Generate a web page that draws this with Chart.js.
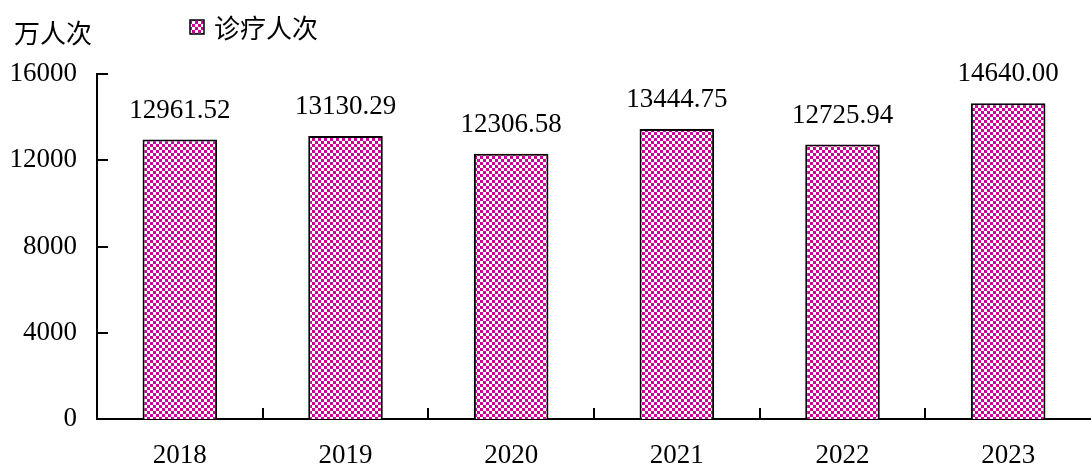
<!DOCTYPE html>
<html>
<head>
<meta charset="utf-8">
<script src="https://cdn.jsdelivr.net/npm/chart.js@4/dist/chart.umd.min.js"></script>
<style>
html,body{margin:0;padding:0;background:#fff;}
#wrap{width:1091px;height:465px;position:relative;}
</style>
</head>
<body>
<div id="wrap"><canvas id="c" width="1091" height="465"></canvas></div>
<script>
const categories = ['2018', '2019', '2020', '2021', '2022', '2023'];
const visits = [12961.52, 13130.29, 12306.58, 13444.75, 12725.94, 14640.00];
const seriesName = '诊疗人次';
const unitLabel = '万人次';
const yTicks = [0, 4000, 8000, 12000, 16000];

function makePattern(ctx) {
  const p = document.createElement('canvas');
  p.width = 6; p.height = 6;
  const g = p.getContext('2d');
  g.fillStyle = '#ffffff';
  g.fillRect(0, 0, 6, 6);
  g.fillStyle = '#cc0099';
  g.fillRect(0, 0, 3, 3);
  g.fillRect(3, 3, 3, 3);
  return ctx.createPattern(p, 'repeat');
}

const canvas = document.getElementById('c');
const ctx = canvas.getContext('2d');
const pattern = makePattern(ctx);
const numFont = '"Liberation Serif", "Times New Roman", serif';
const cjkFont = '"Noto Sans CJK SC", sans-serif';

const extras = {
  id: 'extras',
  afterDatasetsDraw(chart) {
    const c = chart.ctx;
    const ca = chart.chartArea;
    const xs = chart.scales.x, ys = chart.scales.y;
    c.save();
    c.strokeStyle = '#000';
    c.lineWidth = 2;
    // inward y ticks
    yTicks.forEach(v => {
      const y = Math.round(ys.getPixelForValue(v));
      c.beginPath();
      c.moveTo(ca.left, y);
      c.lineTo(ca.left + 11, y);
      c.stroke();
    });
    // inward x ticks at category boundaries
    for (let i = 1; i < categories.length; i++) {
      const x = Math.round((xs.getPixelForValue(i - 1) + xs.getPixelForValue(i)) / 2);
      c.beginPath();
      c.moveTo(x, ca.bottom);
      c.lineTo(x, ca.bottom - 11);
      c.stroke();
    }
    // data labels
    const meta = chart.getDatasetMeta(0);
    c.fillStyle = '#000';
    c.font = '27px ' + numFont;
    c.textAlign = 'center';
    c.textBaseline = 'alphabetic';
    meta.data.forEach((bar, i) => {
      c.fillText(visits[i].toFixed(2), bar.x, bar.y - 22);
    });
    // unit label
    c.font = '26px ' + cjkFont;
    c.textAlign = 'left';
    c.textBaseline = 'middle';
    c.fillText(unitLabel, 14, 33);
    // legend
    c.fillStyle = pattern;
    c.fillRect(190, 20, 14, 14);
    c.lineWidth = 1.5;
    c.strokeRect(190, 20, 14, 14);
    c.fillStyle = '#000';
    c.fillText(seriesName, 214, 28);
    c.restore();
  }
};

new Chart(canvas, {
  type: 'bar',
  data: {
    labels: categories,
    datasets: [{
      label: seriesName,
      data: visits,
      backgroundColor: pattern,
      borderColor: '#000',
      borderWidth: 2,
      borderSkipped: 'bottom',
      categoryPercentage: 1,
      barPercentage: 0.45
    }]
  },
  options: {
    responsive: false,
    animation: false,
    events: [],
    layout: { padding: { top: 74, right: 0, left: 0, bottom: 0 } },
    plugins: { legend: { display: false }, tooltip: { enabled: false } },
    scales: {
      x: {
        offset: true,
        grid: { display: false, drawTicks: false },
        border: { display: true, color: '#000', width: 2 },
        ticks: { color: '#000', font: { family: numFont, size: 27 }, padding: 21 },
        afterFit(s) { s.height = 46; }
      },
      y: {
        min: 0, max: 16000,
        afterBuildTicks(s) { s.ticks = yTicks.map(v => ({ value: v })); },
        grid: { display: false, drawTicks: false },
        border: { display: true, color: '#000', width: 2 },
        ticks: { color: '#000', font: { family: numFont, size: 27 }, padding: 20,
                 callback: v => String(v) },
        afterFit(s) { s.width = 97; }
      }
    }
  },
  plugins: [extras]
});
</script>
</body>
</html>
